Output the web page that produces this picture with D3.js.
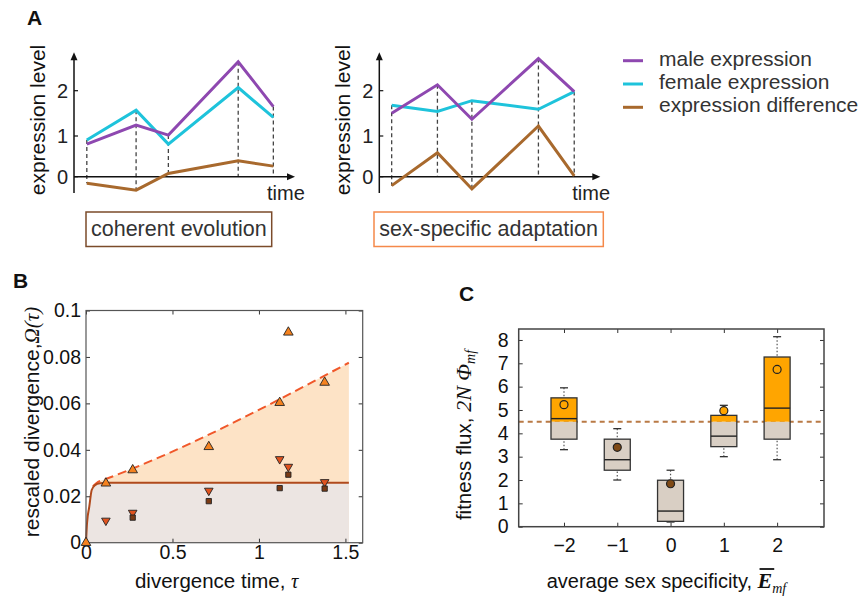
<!DOCTYPE html>
<html>
<head>
<meta charset="utf-8">
<script src="https://cdnjs.cloudflare.com/ajax/libs/d3/7.8.5/d3.min.js"></script>
<style>
  body { margin: 0; background: #fff; }
  svg { display: block; font-family: "Liberation Sans", Arial, Helvetica, sans-serif; }
  .math { font-family: "Liberation Serif", "DejaVu Serif", serif; font-style: italic; }
</style>
</head>
<body>
<div id="chart"></div>
<script>
// panel A: schematic expression trajectories
const coherentTimes = [0.58, 2.81, 4.27, 7.43, 9.02]
const coherentMale = [0.80, 1.24, 1.02, 2.64, 1.65]
const coherentFemale = [0.90, 1.57, 0.80, 2.07, 1.41]
const coherentDiff = [-0.16, -0.33, 0.08, 0.39, 0.26]

const adaptiveTimes = [0.56, 2.63, 4.19, 7.2, 8.82]
const adaptiveMale = [1.50, 2.13, 1.37, 2.71, 1.98]
const adaptiveFemale = [1.68, 1.54, 1.78, 1.59, 1.98]
const adaptiveDiff = [-0.22, 0.59, -0.30, 1.22, 0.02]

const expressionTicks = [0, 1, 2]
const legendLabels = ['male expression', 'female expression', 'expression difference']

// panel B: rescaled divergence vs divergence time
const tau = [0, 0.115, 0.27, 0.71, 1.12, 1.17, 1.38]
const omegaUp = [0, 0.0256, 0.0313, 0.0413, 0.0603, 0.0906, 0.069]
const omegaDown = [null, 0.0095, 0.0129, 0.0224, 0.036, 0.0327, 0.0261]
const omegaSquare = [null, null, 0.0108, 0.0179, 0.0235, 0.0293, 0.0233]
const neutralTau = [0, 0.006, 0.019, 0.033, 0.052, 0.081, 0.12, 1.52]
const neutralOmega = [0, 0.0085, 0.0155, 0.0227, 0.0248, 0.0256, 0.0258, 0.0258]
const selectedTau = [0.04, 0.07, 0.11, 1.52]
const selectedOmega = [0.0243, 0.0262, 0.0273, 0.0775]
const tauTicks = [0, 0.5, 1, 1.5]
const omegaTicks = [0, 0.02, 0.04, 0.06, 0.08, 0.1]

// panel C: fitness flux by sex specificity
const specificity = [-2, -1, 0, 1, 2]
const whiskerLow = [3.3, 2.0, 0.2, 3.0, 2.87]
const boxLow = [3.75, 2.42, 0.23, 3.43, 3.75]
const medians = [4.63, 2.87, 0.67, 3.88, 5.08]
const boxHigh = [5.52, 3.75, 1.99, 4.77, 7.27]
const whiskerHigh = [5.95, 4.2, 2.42, 5.2, 8.14]
const means = [5.23, 3.4, 1.84, 4.97, 6.74]
const neutralFlux = 4.5
const fluxTicks = [0, 1, 2, 3, 4, 5, 6, 7, 8]

const maleColor = '#8E48B0'
const femaleColor = '#1EC3DB'
const diffColor = '#A8692D'

let svg = d3.select('#chart')
  .append('svg')
  .attr('width', 860)
  .attr('height', 599)

function panelLabel(text, x, y) {
  svg.append('text')
    .attr('x', x)
    .attr('y', y)
    .attr('font-weight', 'bold')
    .attr('font-size', 21)
    .attr('fill', '#111')
    .text(text)
}

function styleAxis(axisG, fontSize) {
  axisG.select('.domain').remove()
  axisG.attr('font-family', null).attr('font-size', fontSize).attr('color', '#333')
  axisG.selectAll('text').attr('fill', '#111')
}

function drawExpressionPanel(left, times, male, female, diff, labelX, caption, captionColor, box) {
  let xScale = d3.scaleLinear().domain([0, 10]).range([left, left + 221])
  let yScale = d3.scaleLinear().domain([0, 1, 2]).range([176.7, 136, 90.7])
  let g = svg.append('g')

  // dashed guides down to the axis / difference curve
  times.forEach((t, i) => {
    g.append('line')
      .attr('x1', xScale(t)).attr('x2', xScale(t))
      .attr('y1', yScale(Math.max(male[i], female[i])))
      .attr('y2', yScale(Math.min(diff[i], 0)))
      .attr('stroke', '#444')
      .attr('stroke-width', 1.3)
      .attr('stroke-dasharray', '4,3')
  })

  // axes with arrows
  let x0 = xScale(0), y0 = yScale(0)
  let yTip = yScale(2.85), xTip = xScale(10)
  g.append('line')
    .attr('x1', x0).attr('x2', x0)
    .attr('y1', yScale(-0.4)).attr('y2', yTip + 6)
    .attr('stroke', '#111').attr('stroke-width', 1.5)
  g.append('line')
    .attr('x1', x0).attr('x2', xTip - 6)
    .attr('y1', y0).attr('y2', y0)
    .attr('stroke', '#111').attr('stroke-width', 1.5)
  g.append('path')
    .attr('d', `M${x0},${yTip}L${x0 - 3.5},${yTip + 8}L${x0 + 3.5},${yTip + 8}Z`)
    .attr('fill', '#111')
  g.append('path')
    .attr('d', `M${xTip},${y0}L${xTip - 8},${y0 - 3.5}L${xTip - 8},${y0 + 3.5}Z`)
    .attr('fill', '#111')

  expressionTicks.forEach(t => {
    g.append('line')
      .attr('x1', x0).attr('x2', x0 + 4)
      .attr('y1', yScale(t)).attr('y2', yScale(t))
      .attr('stroke', '#111').attr('stroke-width', 1.2)
    g.append('text')
      .attr('x', x0 - 6)
      .attr('y', yScale(t))
      .attr('dy', '0.35em')
      .attr('text-anchor', 'end')
      .attr('font-size', 20)
      .attr('fill', '#222')
      .text(t)
  })

  let line = d3.line()
    .x((d, i) => xScale(times[i]))
    .y(d => yScale(d))

  ;[[diff, diffColor], [female, femaleColor], [male, maleColor]].forEach(([values, color]) => {
    g.append('path')
      .datum(values)
      .attr('d', line)
      .attr('fill', 'none')
      .attr('stroke', color)
      .attr('stroke-width', 3)
  })

  g.append('text')
    .attr('x', xTip - 28)
    .attr('y', 200)
    .attr('font-size', 20)
    .attr('fill', '#222')
    .text('time')

  g.append('text')
    .attr('transform', `translate(${labelX},120) rotate(-90)`)
    .attr('text-anchor', 'middle')
    .attr('font-size', 21)
    .attr('fill', '#111')
    .text('expression level')

  g.append('rect')
    .attr('x', box[0]).attr('y', 212)
    .attr('width', box[1] - box[0]).attr('height', 34.5)
    .attr('fill', 'none')
    .attr('stroke', captionColor)
    .attr('stroke-width', 1.5)
  g.append('text')
    .attr('x', (box[0] + box[1]) / 2)
    .attr('y', 236)
    .attr('text-anchor', 'middle')
    .attr('font-size', 21.5)
    .attr('fill', '#333')
    .text(caption)
}

function drawLegend() {
  let colors = [maleColor, femaleColor, diffColor]
  legendLabels.forEach((label, i) => {
    let y = 60.7 + i * 23.3
    svg.append('line')
      .attr('x1', 623).attr('x2', 643)
      .attr('y1', y).attr('y2', y)
      .attr('stroke', colors[i])
      .attr('stroke-width', 3)
    svg.append('text')
      .attr('x', 659)
      .attr('y', y + 5)
      .attr('font-size', 21)
      .attr('fill', '#333')
      .text(label)
  })
}

function drawDivergencePanel() {
  let xScale = d3.scaleLinear().domain([0, 1.6]).range([86, 362.7])
  let yScale = d3.scaleLinear().domain([0, 0.1]).range([542.7, 310.5])
  let g = svg.append('g')

  let upperArea = d3.area()
    .x((d, i) => xScale(selectedTau[i]))
    .y0(yScale(0))
    .y1(d => yScale(d))
    .curve(d3.curveMonotoneX)
  let lowerArea = d3.area()
    .x((d, i) => xScale(neutralTau[i]))
    .y0(yScale(0))
    .y1(d => yScale(d))
    .curve(d3.curveMonotoneX)

  g.append('path').datum(selectedOmega).attr('d', upperArea).attr('fill', '#FDE3C6')
  g.append('path').datum(neutralOmega).attr('d', lowerArea).attr('fill', '#ECE5E2')

  g.append('path')
    .datum(selectedOmega)
    .attr('d', d3.line().x((d, i) => xScale(selectedTau[i])).y(d => yScale(d)).curve(d3.curveMonotoneX))
    .attr('fill', 'none')
    .attr('stroke', '#F0582A')
    .attr('stroke-width', 2)
    .attr('stroke-dasharray', '9,5')
  g.append('path')
    .datum(neutralOmega)
    .attr('d', d3.line().x((d, i) => xScale(neutralTau[i])).y(d => yScale(d)).curve(d3.curveMonotoneX))
    .attr('fill', 'none')
    .attr('stroke', '#B04A1C')
    .attr('stroke-width', 2)

  // axes: ticks inside on all four sides
  let bottom = g.append('g')
    .attr('transform', `translate(0,${yScale(0)})`)
    .call(d3.axisBottom(xScale).tickValues(tauTicks).tickSize(-4).tickPadding(2).tickFormat(d3.format('~g')))
  styleAxis(bottom, 19.5)
  let leftAxis = g.append('g')
    .attr('transform', `translate(${xScale(0)},0)`)
    .call(d3.axisLeft(yScale).tickValues(omegaTicks).tickSize(-4).tickPadding(5).tickFormat(d3.format('~g')))
  styleAxis(leftAxis, 19.5)
  let top = g.append('g')
    .attr('transform', `translate(0,${yScale(0.1)})`)
    .call(d3.axisTop(xScale).tickValues(tauTicks).tickSize(-4).tickFormat(''))
  styleAxis(top, 10)
  let rightAxis = g.append('g')
    .attr('transform', `translate(${xScale(1.6)},0)`)
    .call(d3.axisRight(yScale).tickValues(omegaTicks).tickSize(-4).tickFormat(''))
  styleAxis(rightAxis, 10)

  g.append('rect')
    .attr('x', xScale(0)).attr('y', yScale(0.1))
    .attr('width', xScale(1.6) - xScale(0))
    .attr('height', yScale(0) - yScale(0.1))
    .attr('fill', 'none')
    .attr('stroke', '#555')
    .attr('stroke-width', 1.2)

  let markers = [
    [omegaDown, d3.symbolTriangle, 180, '#E0531E', 32],
    [omegaSquare, d3.symbolSquare, 0, '#7A3A14', 28],
    [omegaUp, d3.symbolTriangle, 0, '#F5821F', 40]
  ]
  markers.forEach(([values, type, angle, color, size]) => {
    g.selectAll(null)
      .data(values.map((v, i) => [tau[i], v]).filter(d => d[1] !== null))
      .enter()
      .append('path')
      .attr('d', d3.symbol().type(type).size(size))
      .attr('transform', d => `translate(${xScale(d[0])},${yScale(d[1])}) rotate(${angle})`)
      .attr('fill', color)
      .attr('stroke', '#222')
      .attr('stroke-width', 0.9)
  })

  let yLabel = svg.append('text')
    .attr('transform', 'translate(38.5,422) rotate(-90)')
    .attr('text-anchor', 'middle')
    .attr('font-size', 21)
    .attr('fill', '#111')
  yLabel.append('tspan').text('rescaled divergence,')
  yLabel.append('tspan').attr('class', 'math').attr('font-style', 'normal').text('Ω(')
  yLabel.append('tspan').attr('class', 'math').text('τ')
  yLabel.append('tspan').attr('class', 'math').attr('font-style', 'normal').text(')')

  let xLabel = svg.append('text')
    .attr('x', 216.7)
    .attr('y', 588)
    .attr('text-anchor', 'middle')
    .attr('font-size', 20.5)
    .attr('fill', '#111')
  xLabel.append('tspan').text('divergence time, ')
  xLabel.append('tspan').attr('class', 'math').attr('font-style', 'normal').text('τ')
}

function drawFluxPanel() {
  let xScale = d3.scaleLinear().domain([-2.85, 2.88]).range([518.7, 824])
  let yScale = d3.scaleLinear().domain([0, 8.47]).range([526.7, 329])
  let g = svg.append('g')
  let boxWidth = 26

  g.append('line')
    .attr('x1', xScale(-2.85)).attr('x2', xScale(2.88))
    .attr('y1', yScale(neutralFlux)).attr('y2', yScale(neutralFlux))
    .attr('stroke', '#B97A45')
    .attr('stroke-width', 2)
    .attr('stroke-dasharray', '5,4')

  specificity.forEach((s, i) => {
    let cx = xScale(s)
    ;[[whiskerHigh[i], boxHigh[i]], [whiskerLow[i], boxLow[i]]].forEach(([end, start]) => {
      g.append('line')
        .attr('x1', cx).attr('x2', cx)
        .attr('y1', yScale(end)).attr('y2', yScale(start))
        .attr('stroke', '#555')
        .attr('stroke-width', 1.2)
        .attr('stroke-dasharray', '1.5,2')
      g.append('line')
        .attr('x1', cx - 4).attr('x2', cx + 4)
        .attr('y1', yScale(end)).attr('y2', yScale(end))
        .attr('stroke', '#333')
        .attr('stroke-width', 1.3)
    })

    let grayTop = Math.min(boxHigh[i], neutralFlux)
    g.append('rect')
      .attr('x', cx - boxWidth / 2).attr('width', boxWidth)
      .attr('y', yScale(grayTop))
      .attr('height', yScale(boxLow[i]) - yScale(grayTop))
      .attr('fill', '#D9CFC4')
    if (boxHigh[i] > neutralFlux) {
      let orangeBottom = Math.max(boxLow[i], neutralFlux)
      g.append('rect')
        .attr('x', cx - boxWidth / 2).attr('width', boxWidth)
        .attr('y', yScale(boxHigh[i]))
        .attr('height', yScale(orangeBottom) - yScale(boxHigh[i]))
        .attr('fill', '#FFA500')
    }
    g.append('rect')
      .attr('x', cx - boxWidth / 2).attr('width', boxWidth)
      .attr('y', yScale(boxHigh[i]))
      .attr('height', yScale(boxLow[i]) - yScale(boxHigh[i]))
      .attr('fill', 'none')
      .attr('stroke', '#333')
      .attr('stroke-width', 1.3)
    g.append('line')
      .attr('x1', cx - boxWidth / 2).attr('x2', cx + boxWidth / 2)
      .attr('y1', yScale(medians[i])).attr('y2', yScale(medians[i]))
      .attr('stroke', '#222')
      .attr('stroke-width', 1.4)
    g.append('circle')
      .attr('cx', cx)
      .attr('cy', yScale(means[i]))
      .attr('r', 4)
      .attr('fill', means[i] > neutralFlux ? '#FFA500' : '#7F4A16')
      .attr('stroke', '#222')
      .attr('stroke-width', 1.2)
  })

  let bottom = g.append('g')
    .attr('transform', `translate(0,${yScale(0)})`)
    .call(d3.axisBottom(xScale).tickValues(specificity).tickSize(-4).tickPadding(11.5).tickFormat(d3.format('d')))
  styleAxis(bottom, 19.5)
  let leftAxis = g.append('g')
    .attr('transform', `translate(${xScale(-2.85)},0)`)
    .call(d3.axisLeft(yScale).tickValues(fluxTicks).tickSize(-4).tickPadding(10))
  styleAxis(leftAxis, 19.5)
  let top = g.append('g')
    .attr('transform', `translate(0,${yScale(8.47)})`)
    .call(d3.axisTop(xScale).tickValues(specificity).tickSize(-4).tickFormat(''))
  styleAxis(top, 10)
  let rightAxis = g.append('g')
    .attr('transform', `translate(${xScale(2.88)},0)`)
    .call(d3.axisRight(yScale).tickValues(fluxTicks).tickSize(-4).tickFormat(''))
  styleAxis(rightAxis, 10)

  g.append('rect')
    .attr('x', xScale(-2.85)).attr('y', yScale(8.47))
    .attr('width', xScale(2.88) - xScale(-2.85))
    .attr('height', yScale(0) - yScale(8.47))
    .attr('fill', 'none')
    .attr('stroke', '#444')
    .attr('stroke-width', 1.5)

  let yLabel = svg.append('text')
    .attr('transform', 'translate(471,435) rotate(-90)')
    .attr('text-anchor', 'middle')
    .attr('font-size', 20.5)
    .attr('fill', '#111')
  yLabel.append('tspan').text('fitness flux, ')
  yLabel.append('tspan').attr('class', 'math').attr('font-size', 22).text('2N Φ')
  yLabel.append('tspan').attr('class', 'math').attr('font-size', 14).attr('dy', 4).text('mf')

  let xLabel = svg.append('text')
    .attr('x', 546.7)
    .attr('y', 588)
    .attr('font-size', 20)
    .attr('fill', '#111')
  let plain = xLabel.append('tspan').text('average sex specificity, ')
  let eBar = xLabel.append('tspan')
    .attr('class', 'math')
    .attr('font-weight', 'bold')
    .attr('font-size', 22)
    .text('E')
  xLabel.append('tspan').attr('class', 'math').attr('font-size', 14).attr('dy', 5).text('mf')

  let eStart = 546.7 + plain.node().getComputedTextLength()
  let eWidth = eBar.node().getComputedTextLength()
  svg.append('line')
    .attr('x1', eStart + 2).attr('x2', eStart + eWidth + 2)
    .attr('y1', 569).attr('y2', 569)
    .attr('stroke', '#111')
    .attr('stroke-width', 1.8)
}

panelLabel('A', 27, 25)
panelLabel('B', 13, 288)
panelLabel('C', 459, 300.7)

drawExpressionPanel(74, coherentTimes, coherentMale, coherentFemale, coherentDiff,
  45, 'coherent evolution', '#7B4B2A', [86, 271.7])
drawExpressionPanel(379.3, adaptiveTimes, adaptiveMale, adaptiveFemale, adaptiveDiff,
  350, 'sex-specific adaptation', '#F5894A', [374, 603.3])
drawLegend()
drawDivergencePanel()
drawFluxPanel()
</script>
</body>
</html>
